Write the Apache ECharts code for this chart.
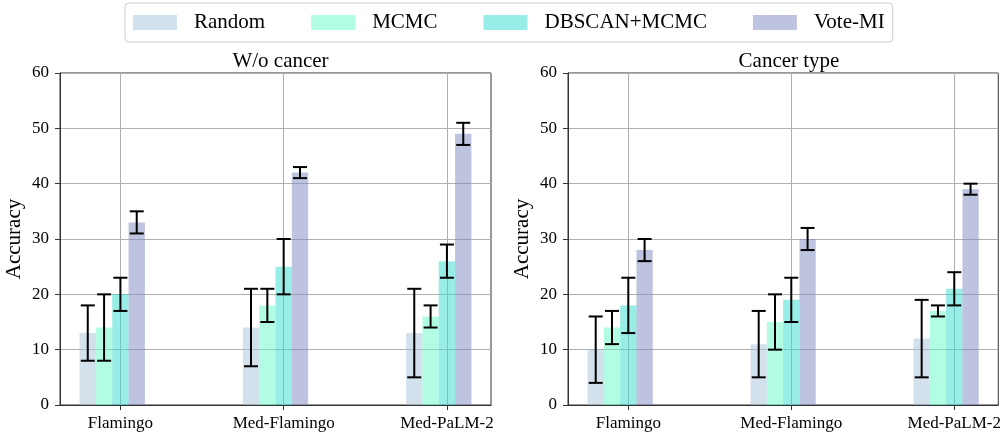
<!DOCTYPE html>
<html>
<head>
<meta charset="utf-8">
<script src="https://cdn.jsdelivr.net/npm/echarts@6/dist/echarts.min.js"></script>
<style>
  html, body { margin: 0; padding: 0; background: #fff; }
  #main { width: 1004px; height: 435px; }
</style>
</head>
<body>
<div id="main"></div>
<script>
var categories = ['Flamingo', 'Med-Flamingo', 'Med-PaLM-2'];
var methods = ['Random', 'MCMC', 'DBSCAN+MCMC', 'Vote-MI'];
var panelTitles = ['W/o cancer', 'Cancer type'];

// W/o cancer
var woRandom = [13, 14, 13];
var woRandomErr = [5, 7, 8];
var woMcmc = [14, 18, 16];
var woMcmcErr = [6, 3, 2];
var woDbscan = [20, 25, 26];
var woDbscanErr = [3, 5, 3];
var woVote = [33, 42, 49];
var woVoteErr = [2, 1, 2];

// Cancer type
var ctRandom = [10, 11, 12];
var ctRandomErr = [6, 6, 7];
var ctMcmc = [14, 15, 17];
var ctMcmcErr = [3, 5, 1];
var ctDbscan = [18, 19, 21];
var ctDbscanErr = [5, 4, 3];
var ctVote = [28, 30, 39];
var ctVoteErr = [2, 2, 1];

var colors = ['rgba(168,196,220,0.5)', 'rgba(110,250,203,0.52)', 'rgba(50,222,205,0.5)', 'rgba(125,135,192,0.5)'];

var panels = [
  [[woRandom, woRandomErr], [woMcmc, woMcmcErr], [woDbscan, woDbscanErr], [woVote, woVoteErr]],
  [[ctRandom, ctRandomErr], [ctMcmc, ctMcmcErr], [ctDbscan, ctDbscanErr], [ctVote, ctVoteErr]]
];

var barW = 0.1;
var font = 'Liberation Serif';

// bar + error bar, shifted inside the group by series index
function makeRender(k) {
  var off = (k - 2) * barW;
  return function(params, api) {
    var x = api.value(0) + off;
    var v = api.value(1), e = api.value(2);
    var p0 = api.coord([x - barW / 2, v]);
    var p1 = api.coord([x + barW / 2, 0]);
    var c = api.coord([x, 0])[0];
    var lo = api.coord([x, v - e])[1];
    var hi = api.coord([x, v + e])[1];
    var ls = { stroke: '#000', lineWidth: 2 };
    return {
      type: 'group',
      children: [
        { type: 'rect', shape: { x: p0[0], y: p0[1], width: p1[0] - p0[0], height: p1[1] - p0[1] },
          style: { fill: api.visual('color') } },
        { type: 'line', shape: { x1: c, y1: lo, x2: c, y2: hi }, style: ls, z2: 10 },
        { type: 'line', shape: { x1: c - 7, y1: lo, x2: c + 7, y2: lo }, style: ls, z2: 10 },
        { type: 'line', shape: { x1: c - 7, y1: hi, x2: c + 7, y2: hi }, style: ls, z2: 10 }
      ]
    };
  };
}

var grids = [
  { left: 60, top: 73, width: 431, height: 332, show: true, borderColor: '#333', borderWidth: 1 },
  { left: 568, top: 73, width: 432, height: 332, show: true, borderColor: '#333', borderWidth: 1 }
];

var xAxes = [], yAxes = [], series = [], titles = [];
grids.forEach(function(g, gi) {
  xAxes.push({
    type: 'value', gridIndex: gi, min: -0.37, max: 2.27,
    axisLine: { show: true, onZero: false, lineStyle: { color: '#333' } },
    axisTick: { show: true, length: 5, customValues: [0, 1, 2], lineStyle: { color: '#333' } },
    axisLabel: { customValues: [0, 1, 2], color: '#000', fontSize: 17, fontFamily: font, margin: 10,
      formatter: function(v) { return categories[Math.round(v)]; } },
    splitLine: { show: true, lineStyle: { color: '#b0b0b0', width: 1 } }
  });
  yAxes.push({
    type: 'value', gridIndex: gi, min: 0, max: 60, interval: 10,
    name: 'Accuracy', nameLocation: 'middle', nameGap: 35, nameRotate: 90,
    nameTextStyle: { color: '#000', fontSize: 21, fontFamily: font },
    axisLine: { show: true, onZero: false, lineStyle: { color: '#333' } },
    axisTick: { show: true, length: 5, lineStyle: { color: '#333' } },
    axisLabel: { color: '#000', fontSize: 17, fontFamily: font, margin: 11 },
    splitLine: { show: true, lineStyle: { color: '#b0b0b0', width: 1 } }
  });
  titles.push({
    text: panelTitles[gi], left: g.left + g.width / 2, top: 46, textAlign: 'center',
    textStyle: { color: '#000', fontSize: 21, fontWeight: 'normal', fontFamily: font }
  });
  panels[gi].forEach(function(pair, k) {
    series.push({
      type: 'custom', name: methods[k], xAxisIndex: gi, yAxisIndex: gi,
      itemStyle: { color: colors[k] },
      renderItem: makeRender(k),
      data: categories.map(function(c, i) { return [i, pair[0][i], pair[1][i]]; })
    });
  });
});

var chart = echarts.init(document.getElementById('main'));
chart.setOption({
  animation: false,
  title: titles,
  legend: {
    data: methods, left: 125, top: 3, icon: 'rect',
    itemWidth: 44, itemHeight: 15, itemGap: 46,
    padding: [9, 8], borderColor: '#ccc', borderWidth: 1, borderRadius: 4,
    textStyle: { color: '#000', fontSize: 21, fontFamily: font, padding: [0, 0, 0, 12] }
  },
  grid: grids,
  xAxis: xAxes,
  yAxis: yAxes,
  series: series
});
</script>
</body>
</html>
